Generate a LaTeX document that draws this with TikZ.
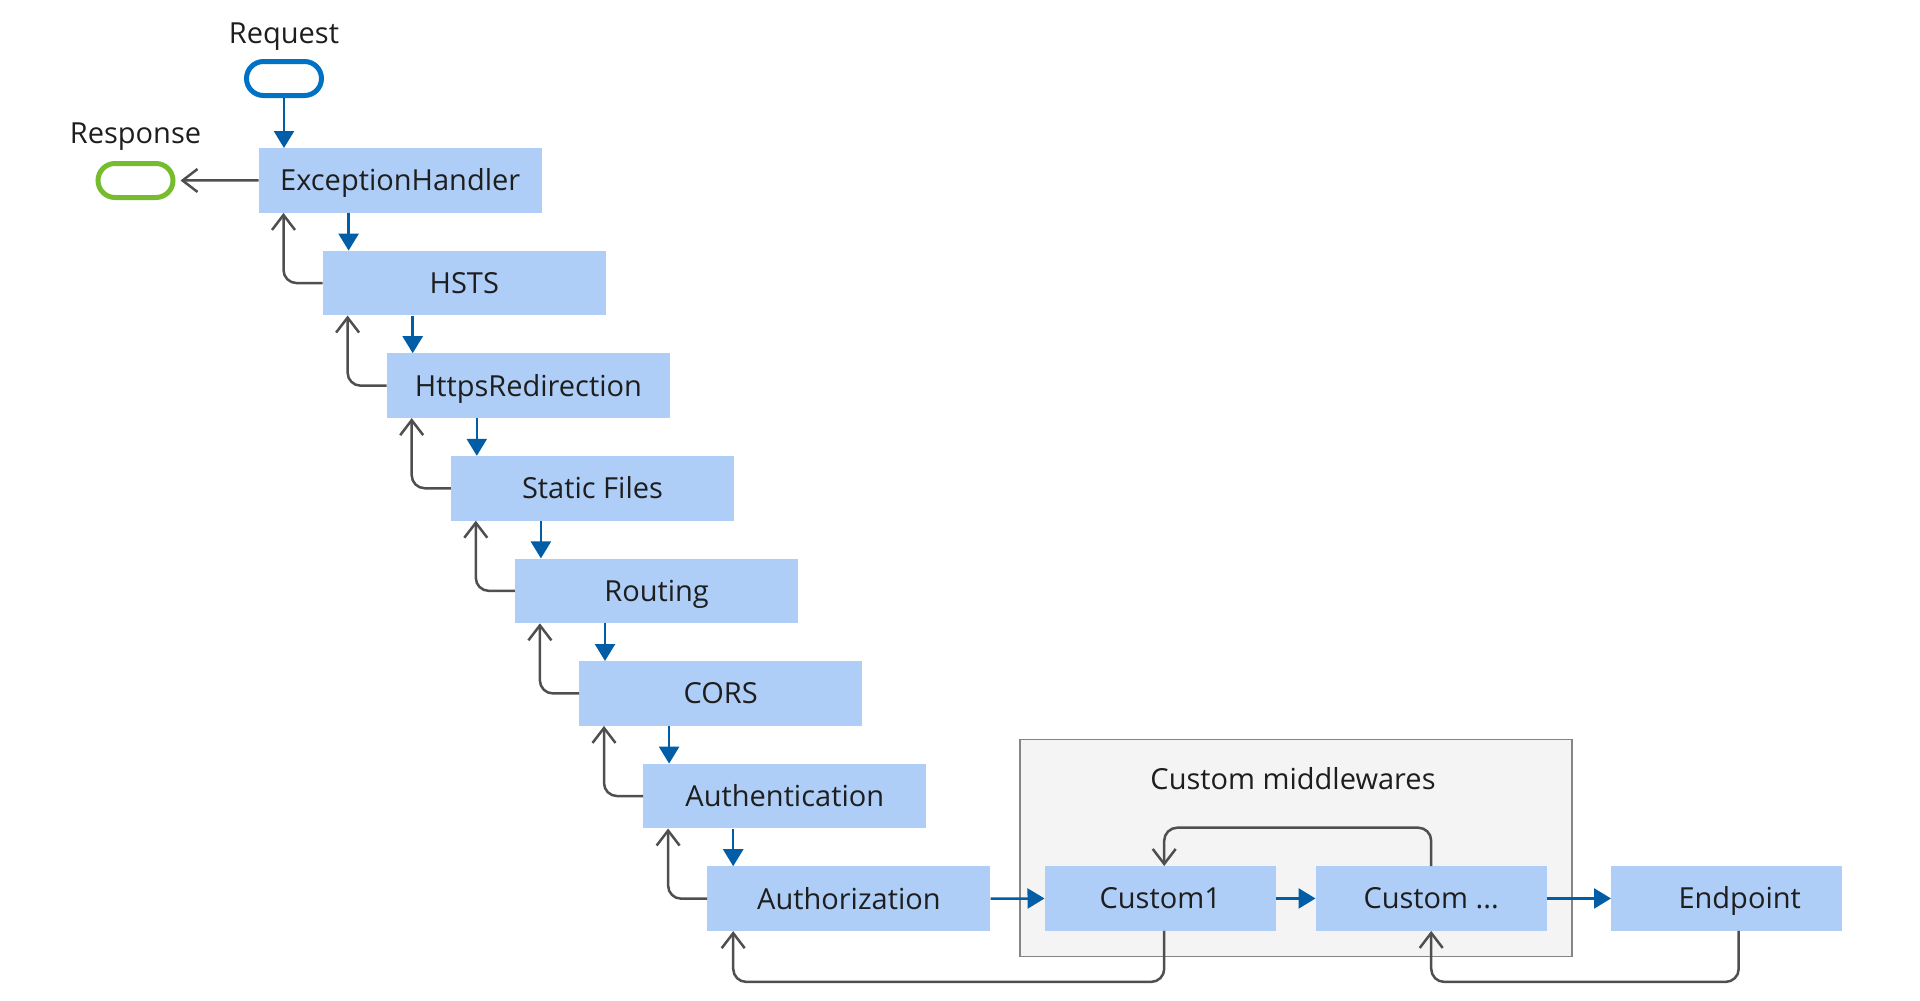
\documentclass[tikz,border=0pt]{standalone}
\usepackage{fontspec}
\setmainfont{Open Sans}
\usetikzlibrary{arrows.meta,calc}
\definecolor{boxfill}{HTML}{AECEF7}
\definecolor{flowblue}{HTML}{005DA6}
\definecolor{reqblue}{HTML}{0072C6}
\definecolor{respgreen}{HTML}{77BC2E}
\definecolor{backgray}{HTML}{4F4F4F}
\definecolor{groupfill}{HTML}{F4F4F4}
\definecolor{groupline}{HTML}{858585}
\definecolor{txt}{HTML}{1E1E1E}
\tikzset{
  lbl/.style={font=\fontsize{29}{34}\selectfont, text=txt, inner sep=0pt, text height=20.7pt, text depth=0pt},
  mw/.style={lbl, fill=boxfill, rectangle, minimum width=283pt, minimum height=64.5pt, anchor=north west},
  cmw/.style={mw, minimum width=231pt},
  pill/.style={draw, line width=5pt, rectangle, rounded corners=17pt, minimum width=75pt, minimum height=34pt, inner sep=0pt},
  groupbox/.style={draw=groupline, line width=1.5pt, fill=groupfill, rectangle, minimum width=552pt, minimum height=217pt, anchor=north west, inner sep=0pt},
  fwd/.style={draw=flowblue, line width=2.5pt, -{Triangle[length=17pt,width=20pt]}},
  back/.style={draw=backgray, line width=2.5pt, -{Straight Barb[length=15pt,width=23pt]}, rounded corners=13pt},
}
\begin{document}
\begin{tikzpicture}[x=1pt,y=-1pt]
\useasboundingbox (0,0) rectangle (1920,1001);
% request / response
\node[lbl] (reqlbl) at (284,33) {Request};
\node[pill, draw=reqblue] (req) at (284,78.5) {};
\node[lbl] (resplbl) at (135.5,133) {Response};
\node[pill, draw=respgreen] (resp) at (135.5,180.5) {};
% cascade
\foreach \i/\t in {0/ExceptionHandler,1/HSTS,2/HttpsRedirection,3/Static Files,4/Routing,5/CORS,6/Authentication,7/Authorization}
  \node[mw] (b\i) at ({258.5+64.1*\i},{148+102.6*\i}) {\t};
% custom group
\node[groupbox] (grp) at (1019,738.5) {};
\node[lbl] (grplbl) at (1293,779) {Custom middlewares};
\node[cmw] (c1) at (1044.5,866) {Custom1};
\node[cmw] (c2) at (1315.5,866) {Custom ...};
\node[cmw] (ep) at (1611,866) {\hspace*{26pt}Endpoint};
% request in, response out
\draw[fwd] (req.south) -- (req.south |- b0.north);
\draw[back, shorten >=5pt] (b0.west) -- (resp.east);
% cascade arrows
\foreach \i in {0,...,6}{
  \pgfmathtruncatemacro{\j}{\i+1}
  \coordinate (d\j) at ($(b\j.north west)+(26,0)$);
  \draw[fwd] (d\j |- b\i.south) -- (d\j);
  \coordinate (u\i) at ($(b\i.south west)+(25,0)$);
  \draw[back] (b\j.west) -| (u\i);
}
% horizontal forward arrows
\draw[fwd] (b7.east) -- (c1.west);
\draw[fwd] (c1.east) -- (c2.west);
\draw[fwd] (c2.east) -- (ep.west);
% loop back inside group
\coordinate (c1in) at ($(c1.north)+(4,0)$);
\draw[back] (c2.north) -- ++(0,-38.3) -| (c1in);
% return paths below
\coordinate (c1out) at ($(c1.south)+(4,0)$);
\coordinate (b7in) at ($(b7.south west)+(26,0)$);
\draw[back] (c1out) -- ++(0,51) -| (b7in);
\coordinate (epout) at ($(ep.south)+(12,0)$);
\draw[back] (epout) -- ++(0,51) -| (c2.south);
\end{tikzpicture}
\end{document}
